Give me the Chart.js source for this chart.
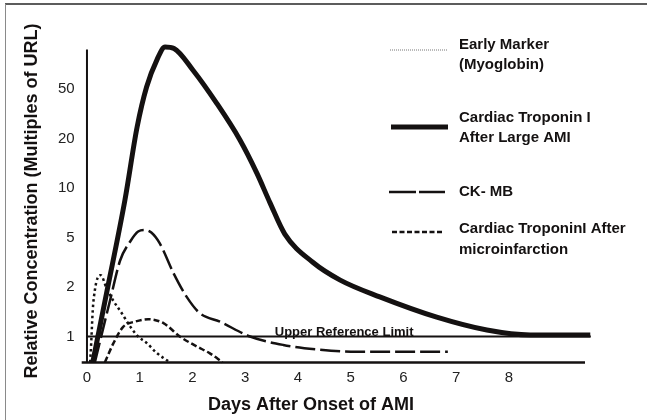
<!DOCTYPE html>
<html>
<head>
<meta charset="utf-8">
<script src="https://cdn.jsdelivr.net/npm/chart.js@4/dist/chart.umd.min.js"></script>
<style>
  html, body { margin: 0; padding: 0; background: #fff; }
  #wrap { position: relative; width: 647px; height: 420px; }
</style>
</head>
<body>
<div id="wrap"><canvas id="c"></canvas></div>
<script>
// x = days after onset, y = step on the axis (0 -> "1", 1 -> "2", 2 -> "5" ...)
const xTicks = [0, 1, 2, 3, 4, 5, 6, 7, 8]
const yTickLabels = ['1', '2', '5', '10', '20', '50']

const myoDays = [0.06, 0.08, 0.11, 0.15, 0.2, 0.26, 0.37, 0.49, 0.66, 0.82, 0.97, 1.13, 1.32, 1.57]
const myoLevels = [-0.52, -0.13, 0.54, 0.94, 1.18, 1.24, 0.98, 0.74, 0.47, 0.2, 0.0, -0.13, -0.33, -0.52]

const tnDays = [0.11, 0.37, 0.72, 0.95, 1.13, 1.33, 1.48, 1.65, 2.01, 2.46, 2.9, 3.22, 3.47, 3.75, 4.28, 4.8, 5.55, 6.63, 7.58, 8.4, 9.54]
const tnLevels = [-0.52, 0.87, 2.76, 4.23, 5.04, 5.6, 5.85, 5.82, 5.38, 4.71, 3.97, 3.3, 2.7, 2.07, 1.5, 1.14, 0.8, 0.39, 0.13, 0.03, 0.03]

const ckDays = [0.15, 0.44, 0.63, 0.82, 0.97, 1.1, 1.22, 1.38, 1.64, 1.89, 2.14, 2.52, 3.09, 3.72, 4.35, 5.11, 6.0, 6.84]
const ckLevels = [-0.52, 0.74, 1.54, 1.92, 2.12, 2.15, 2.1, 1.88, 1.28, 0.8, 0.47, 0.3, 0.0, -0.17, -0.26, -0.31, -0.31, -0.31]

const microDays = [0.34, 0.5, 0.69, 0.91, 1.16, 1.45, 1.76, 2.08, 2.33, 2.57]
const microLevels = [-0.52, -0.14, 0.2, 0.3, 0.35, 0.27, 0.0, -0.2, -0.34, -0.52]

const refDays = [0, 9.55]
const refLevels = [0, 0]

const legendLines = [
  ['Early Marker', '(Myoglobin)'],
  ['Cardiac Troponin I', 'After Large AMI'],
  ['CK- MB'],
  ['Cardiac TroponinI After', 'microinfarction']
]
const refLabel = 'Upper Reference Limit'
const xTitle = 'Days After Onset of AMI'
const yTitle = 'Relative Concentration (Multiples of URL)'

const FONT = '"Liberation Sans", Arial, Helvetica, sans-serif'
const INK = '#141111'

const toPoints = (days, levels) => days.map((d, i) => ({ x: d, y: levels[i] }))

// axes, titles, legend, frame
const overlay = {
  id: 'overlay',
  beforeDatasetsDraw(chart) {
    const { ctx, scales: { x, y } } = chart
    ctx.save()
    ctx.strokeStyle = INK
    ctx.lineWidth = 2
    ctx.beginPath()
    ctx.moveTo(x.getPixelForValue(0), y.getPixelForValue(y.min))
    ctx.lineTo(x.getPixelForValue(0), y.getPixelForValue(y.max))
    ctx.stroke()
    ctx.lineWidth = 2.5
    ctx.beginPath()
    ctx.moveTo(x.getPixelForValue(x.min), y.getPixelForValue(y.min))
    ctx.lineTo(x.getPixelForValue(9.44), y.getPixelForValue(y.min))
    ctx.stroke()
    ctx.restore()
  },
  afterDraw(chart) {
    const { ctx, scales: { x, y } } = chart
    ctx.save()

    // frame (only top and left edges are inside the picture)
    ctx.strokeStyle = '#5c5c5c'
    ctx.lineWidth = 2
    ctx.beginPath()
    ctx.moveTo(5, 4)
    ctx.lineTo(647, 4)
    ctx.stroke()
    ctx.strokeStyle = '#8a8a8a'
    ctx.lineWidth = 1
    ctx.beginPath()
    ctx.moveTo(5.5, 4)
    ctx.lineTo(5.5, 420)
    ctx.stroke()

    ctx.fillStyle = INK
    ctx.textBaseline = 'middle'

    // axis titles
    ctx.font = 'bold 18px ' + FONT
    ctx.textAlign = 'center'
    ctx.fillText(xTitle, 311, 405)
    ctx.save()
    ctx.translate(32, 201)
    ctx.rotate(-Math.PI / 2)
    ctx.fillText(yTitle, 0, 0)
    ctx.restore()

    // reference line label
    ctx.font = 'bold 13px ' + FONT
    ctx.textAlign = 'left'
    ctx.textBaseline = 'alphabetic'
    ctx.fillText(refLabel, x.getPixelForValue(3.56), y.getPixelForValue(0) - 0.5)

    // legend
    const rows = [
      { ys: [45, 65], lineY: 50, x0: 390, x1: 447, width: 1, dash: [1, 1], color: '#777' },
      { ys: [118, 138], lineY: 127, x0: 391, x1: 448, width: 5, dash: [], color: INK },
      { ys: [192], lineY: 192, x0: 389, x1: 445, width: 2.5, dash: [27, 3], color: INK },
      { ys: [229, 250], lineY: 232, x0: 392, x1: 444, width: 2.5, dash: [5, 2.5], color: INK }
    ]
    ctx.font = 'bold 15px ' + FONT
    ctx.textBaseline = 'middle'
    rows.forEach((r, i) => {
      ctx.strokeStyle = r.color
      ctx.lineWidth = r.width
      ctx.setLineDash(r.dash)
      ctx.beginPath()
      ctx.moveTo(r.x0, r.lineY)
      ctx.lineTo(r.x1, r.lineY)
      ctx.stroke()
      legendLines[i].forEach((t, j) => ctx.fillText(t, 459, r.ys[j]))
    })
    ctx.restore()
  }
}

const ctx = document.getElementById('c').getContext('2d')
new Chart(ctx, {
  type: 'line',
  data: {
    datasets: [
      {
        label: 'Upper Reference Limit',
        data: toPoints(refDays, refLevels),
        borderColor: INK,
        borderWidth: 2,
        pointRadius: 0,
        tension: 0
      },
      {
        label: 'Early Marker (Myoglobin)',
        data: toPoints(myoDays, myoLevels),
        borderColor: INK,
        borderWidth: 2.5,
        borderDash: [2.5, 3],
        pointRadius: 0,
        cubicInterpolationMode: 'monotone'
      },
      {
        label: 'CK- MB',
        data: toPoints(ckDays, ckLevels),
        borderColor: INK,
        borderWidth: 2.5,
        borderDash: [20, 5],
        pointRadius: 0,
        cubicInterpolationMode: 'monotone'
      },
      {
        label: 'Cardiac TroponinI After microinfarction',
        data: toPoints(microDays, microLevels),
        borderColor: INK,
        borderWidth: 2.5,
        borderDash: [6, 3],
        pointRadius: 0,
        cubicInterpolationMode: 'monotone'
      },
      {
        label: 'Cardiac Troponin I After Large AMI',
        data: toPoints(tnDays, tnLevels),
        borderColor: INK,
        borderWidth: 5,
        pointRadius: 0,
        cubicInterpolationMode: 'monotone'
      }
    ]
  },
  options: {
    responsive: true,
    maintainAspectRatio: false,
    animation: false,
    clip: false,
    layout: {
      padding: { left: 0, top: 49.4, right: 56.2, bottom: 0 }
    },
    plugins: {
      legend: { display: false },
      tooltip: { enabled: false }
    },
    scales: {
      x: {
        type: 'linear',
        min: -0.1,
        max: 9.55,
        grid: { display: false, drawTicks: false },
        border: { display: false },
        afterBuildTicks: s => { s.ticks = xTicks.map(v => ({ value: v })) },
        afterFit: s => { s.height = 57.5 },
        ticks: {
          color: '#222',
          font: { family: FONT, size: 15 },
          padding: 6,
          maxRotation: 0,
          autoSkip: false
        }
      },
      y: {
        type: 'linear',
        min: -0.525,
        max: 5.8,
        grid: { display: false, drawTicks: false },
        border: { display: false },
        afterBuildTicks: s => { s.ticks = yTickLabels.map((t, i) => ({ value: i })) },
        afterFit: s => { s.width = 81.7 },
        ticks: {
          color: '#222',
          font: { family: FONT, size: 15 },
          padding: 7,
          callback: v => yTickLabels[v]
        }
      }
    }
  },
  plugins: [overlay]
})
</script>
</body>
</html>
